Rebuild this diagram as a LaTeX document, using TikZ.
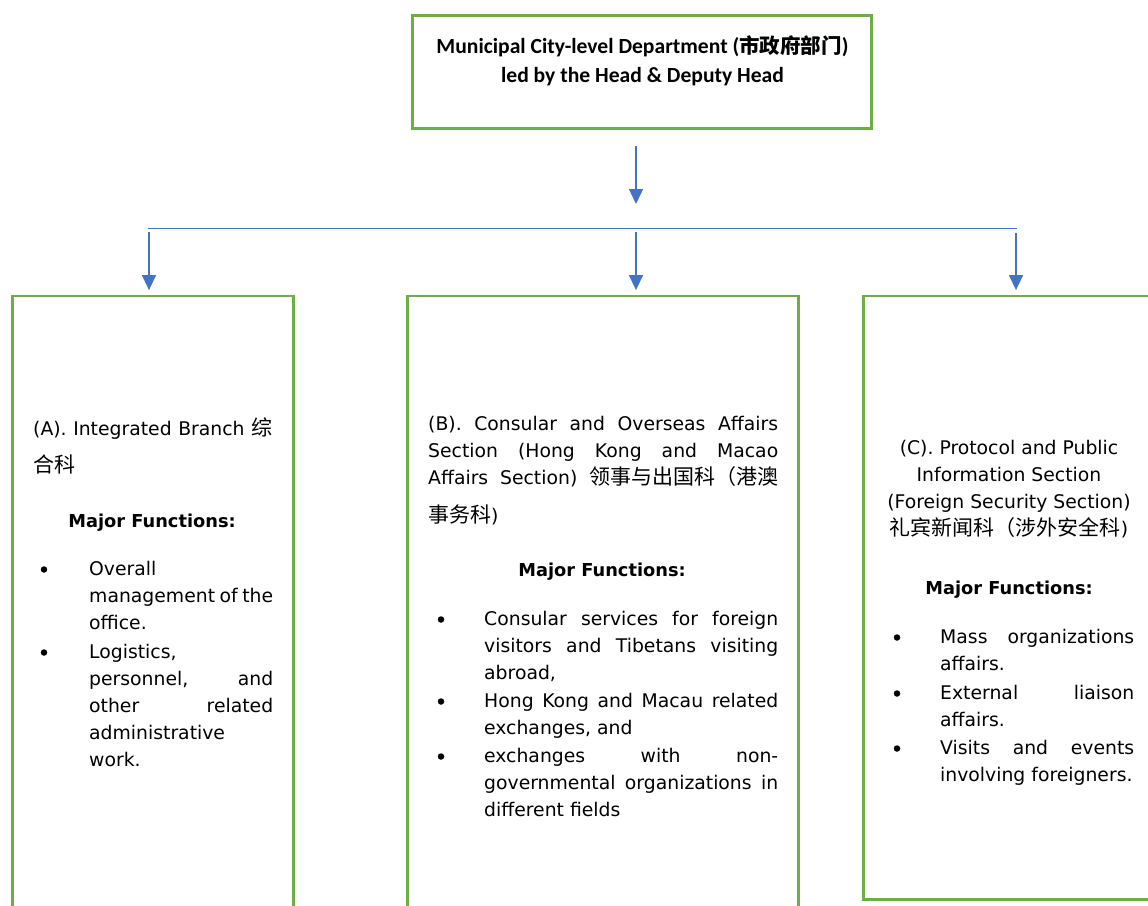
\documentclass[tikz,border=0pt]{standalone}
\usepackage{fontspec}
\setmainfont{DejaVu Sans}
\newfontfamily\cjkfont{Noto Sans CJK SC}
\newfontfamily\titlefont{Carlito}
\usetikzlibrary{arrows.meta}
\definecolor{boxgreen}{HTML}{70AD47}
\definecolor{linkblue}{HTML}{4472C4}
\newcommand\ck[1]{{\cjkfont\fontsize{21}{27}\selectfont #1}}
\newcommand\jl[2]{\makebox[#1][s]{#2}}
\newcommand\st{\rule{0pt}{20pt}}
\begin{document}
\begin{tikzpicture}[x=1pt,y=-1pt,
  panel/.style={draw=boxgreen,line width=2.8pt,inner sep=0pt},
  link/.style={draw=linkblue,line width=1.4pt},
  tipped/.style={link,-{Triangle[width=14pt,length=15pt]}},
  linkarrow/.style={tipped,shorten >=4.5pt},
  body/.style={inner sep=0pt,anchor=north west,align=left,font=\fontsize{18.8}{27}\selectfont},
  bodyc/.style={inner sep=0pt,anchor=north,align=center,font=\fontsize{18.8}{27}\selectfont},
  major/.style={inner sep=0pt,anchor=base,font=\bfseries\fontsize{17.8}{27}\selectfont},
  dot/.style={circle,fill=black,inner sep=0pt,minimum size=6.5pt},
]
\useasboundingbox (0,0) rectangle (1148,905);
% boxes
\node[panel,minimum width=459pt,minimum height=113pt] (top) at (642,72) {};
\node[panel,minimum width=281pt,minimum height=624pt] (boxA) at (153,608) {};
\node[panel,minimum width=391pt,minimum height=624pt] (boxB) at (603,608) {};
\node[panel,minimum width=297pt,minimum height=603.5pt] (boxC) at (1012,597.75) {};
% title
\node[inner sep=0pt,anchor=north,align=center,font=\titlefont\bfseries\fontsize{21.6}{29}\selectfont] (title) at (642.5,33)
  {\st Municipal City-level Department ({\cjkfont\fontsize{20.5}{29}\selectfont 市政府部门})\\led by the Head \& Deputy Head};
% connectors
\coordinate (s0) at (636,146);
\coordinate (t0) at (636,204);
\draw[tipped] (s0) -- (t0);
\coordinate (hl) at (148,228.5);
\coordinate (hr) at (1017,228.5);
\draw[link,line width=1.2pt] (hl) -- (hr);
\coordinate (a0) at (149,232);
\coordinate (b0) at (636,232);
\coordinate (c0) at (1016,233);
\draw[linkarrow] (a0) -- (a0 |- boxA.north);
\draw[linkarrow] (b0) -- (b0 |- boxB.north);
\draw[linkarrow] (c0) -- (c0 |- boxC.north);
% box A
\node[body] (ah) at (33,415) {\jl{239pt}{\st(A). Integrated Branch \ck{综}}\\[10pt]\ck{合科}};
\node[major] (am) at (152,527) {Major Functions:};
\node[dot] (ab1) at (44,569.5) {};
\node[body] (ai1) at (89,555) {\st Overall\\\jl{184pt}{management of the}\\office.};
\node[dot] (ab2) at (44,652.5) {};
\node[body] (ai2) at (89,638) {\st Logistics,\\\jl{184pt}{personnel, and}\\\jl{184pt}{other related}\\administrative\\work.};
% box B
\node[body] (bh) at (428,410) {\st\jl{350pt}{(B). Consular and Overseas Affairs}\\\jl{350pt}{Section (Hong Kong and Macao}\\\jl{350pt}{Affairs Section) \ck{领事与出国科（港澳}}\\[11pt]\ck{事务科})};
\node[major] (bm) at (602,576) {Major Functions:};
\node[dot] (bb1) at (441,619.5) {};
\node[body] (bi1) at (484,605) {\st\jl{294pt}{Consular services for foreign}\\\jl{294pt}{visitors and Tibetans visiting}\\abroad,};
\node[dot] (bb2) at (441,701.5) {};
\node[body] (bi2) at (484,687) {\st\jl{294pt}{Hong Kong and Macau related}\\exchanges, and};
\node[dot] (bb3) at (441,756.5) {};
\node[body] (bi3) at (484,742) {\st\jl{294pt}{exchanges with non-}\\\jl{294pt}{governmental organizations in}\\different fields};
% box C
\node[bodyc] (ch) at (1009,434) {\st(C). Protocol and Public\\Information Section\\(Foreign Security Section)\\\ck{礼宾新闻科（涉外安全科})};
\node[major] (cm) at (1009,594) {Major Functions:};
\node[dot] (cb1) at (897,637.5) {};
\node[body] (ci1) at (940,623) {\st\jl{194pt}{Mass organizations}\\affairs.};
\node[dot] (cb2) at (897,693.5) {};
\node[body] (ci2) at (940,679) {\st\jl{194pt}{External liaison}\\affairs.};
\node[dot] (cb3) at (897,748.5) {};
\node[body] (ci3) at (940,734) {\st\jl{194pt}{Visits and events}\\involving foreigners.};
\end{tikzpicture}
\end{document}
